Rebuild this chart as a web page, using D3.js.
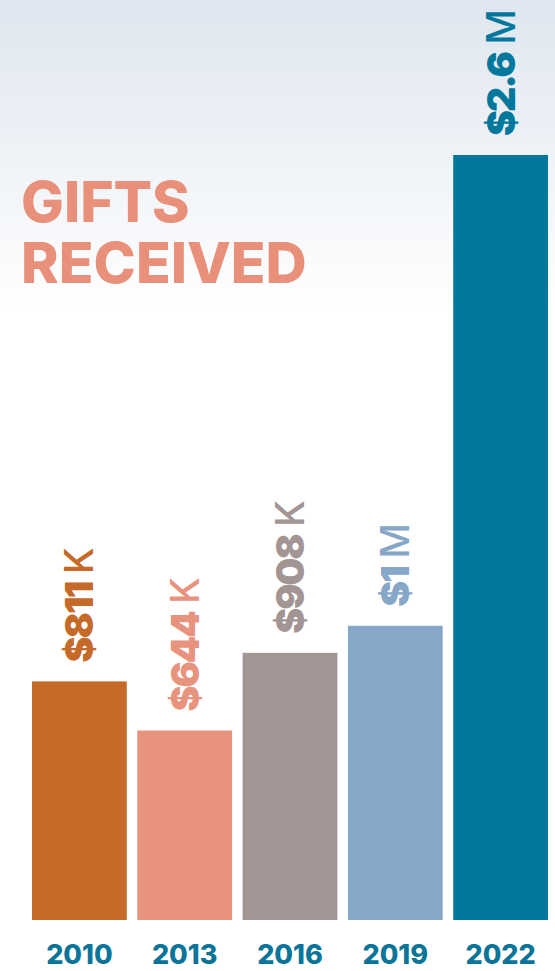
<!DOCTYPE html>
<html>
<head>
<meta charset="utf-8">
<script src="https://cdn.jsdelivr.net/npm/d3@7"></script>
<style>
    html, body { margin: 0; padding: 0; background: #fff; }
    svg { display: block; }
</style>
</head>
<body>
<div id="chart"></div>
<script>
// data
const years = ["2010", "2013", "2016", "2019", "2022"];
const giftsK = [811, 644, 908, 1000, 2600];
const valueLabels = ["$811", "$644", "$908", "$1", "$2.6"];
const unitLabels = ["K", "K", "K", "M", "M"];
const barColors = ["#c56a29", "#e8937d", "#a39593", "#86a7c8", "#03789c"];
const titleLines = ["GIFTS", "RECEIVED"];

const width = 555, height = 971;

const svg = d3.select("#chart")
    .append("svg")
    .attr("width", width)
    .attr("height", height);

// background fade
const grad = svg.append("defs").append("linearGradient")
    .attr("id", "bg")
    .attr("x1", 0).attr("y1", 0).attr("x2", 0).attr("y2", 1);
grad.append("stop").attr("offset", "0").attr("stop-color", "#dfe6ef");
grad.append("stop").attr("offset", "0.32").attr("stop-color", "#ffffff");
grad.append("stop").attr("offset", "1").attr("stop-color", "#ffffff");

svg.append("rect")
    .attr("width", width)
    .attr("height", height)
    .attr("fill", "url(#bg)");

// title, one text per line
svg.selectAll(".title")
    .data(titleLines)
    .enter()
    .append("text")
    .attr("class", "title")
    .attr("x", 21)
    .attr("y", (d, i) => 222 + i * 61)
    .attr("fill", "#e8907a")
    .style("font-family", "Inter, sans-serif")
    .style("font-weight", 800)
    .style("font-size", "57px")
    .text(d => d);

// scales
const x = d3.scaleBand()
    .domain(years)
    .range([32, 548])
    .paddingInner(0.1)
    .paddingOuter(0);

const y = d3.scaleLinear()
    .domain([0, 2600])
    .range([920, 155]);

const data = years.map((yr, i) => ({
    year: yr,
    value: giftsK[i],
    label: valueLabels[i],
    unit: unitLabels[i],
    color: barColors[i]
}));

svg.selectAll(".bar")
    .data(data)
    .enter()
    .append("rect")
    .attr("class", "bar")
    .attr("x", d => x(d.year))
    .attr("y", d => y(d.value))
    .attr("width", x.bandwidth())
    .attr("height", d => y(0) - y(d.value))
    .attr("fill", d => d.color);

// rotated value labels
const labels = svg.selectAll(".val")
    .data(data)
    .enter()
    .append("text")
    .attr("class", "val")
    .attr("transform", d => `translate(${x(d.year) + x.bandwidth() / 2}, ${y(d.value) - 19}) rotate(-90)`)
    .attr("dy", "0.36em")
    .attr("fill", d => d.color)
    .style("font-family", "Inter, sans-serif")
    .style("font-size", "39px")
    .style("letter-spacing", "-2px");

labels.append("tspan")
    .style("font-weight", 900)
    .text(d => d.label);
labels.append("tspan")
    .style("font-weight", 500)
    .text(d => " " + d.unit);

// year axis labels
svg.selectAll(".year")
    .data(data)
    .enter()
    .append("text")
    .attr("class", "year")
    .attr("x", d => x(d.year) + x.bandwidth() / 2)
    .attr("y", 964)
    .attr("text-anchor", "middle")
    .attr("fill", "#0b7599")
    .style("font-family", "Inter, sans-serif")
    .style("font-weight", 800)
    .style("font-size", "27px")
    .text(d => d.year);
</script>
</body>
</html>
